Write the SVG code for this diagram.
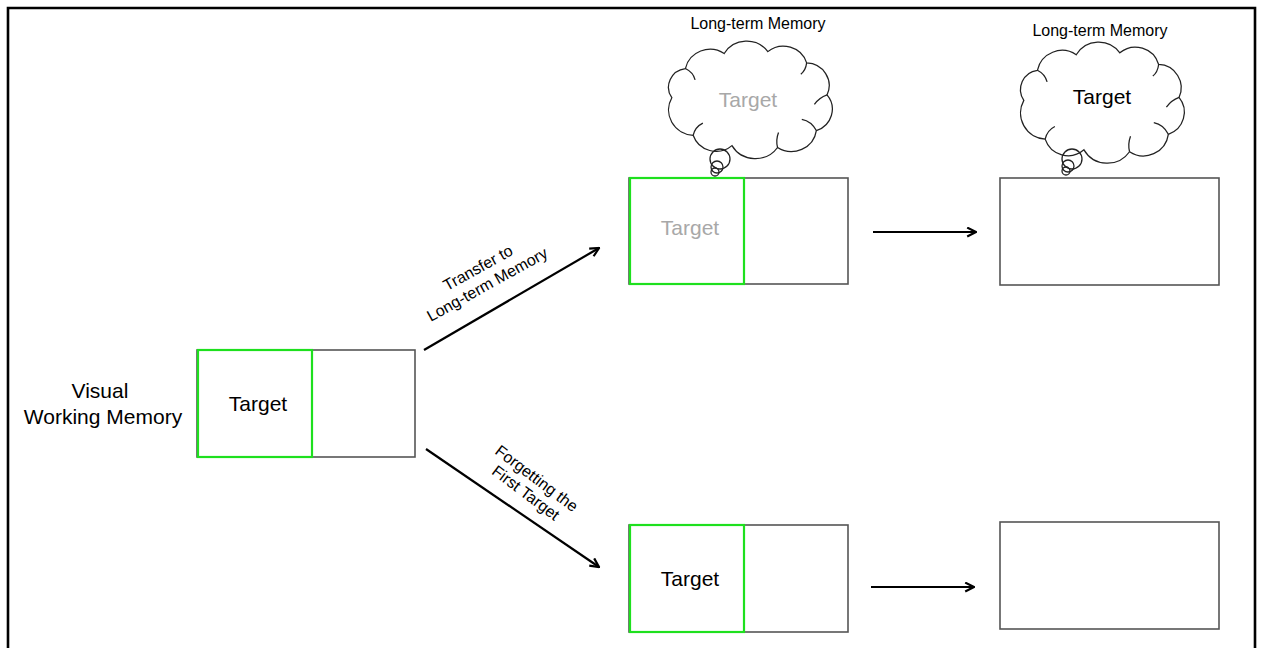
<svg xmlns="http://www.w3.org/2000/svg" width="1261" height="648" viewBox="0 0 1261 648">
  <style>
    text { font-family: "Liberation Sans", Arial, sans-serif; fill: #000; }
    .lbl { font-size: 21px; text-anchor: middle; }
    .small { font-size: 16px; text-anchor: middle; }
    .faded { fill: #a8a8a8; }
    .slot { fill: #fff; stroke: #555; stroke-width: 1.6; }
    .held { fill: none; stroke: #1ee01e; stroke-width: 2.2; }
    .cloud { fill: #fff; stroke: #222; stroke-width: 1.3; }
    .bubble { fill: none; stroke: #222; stroke-width: 1.3; }
    .crease { fill: none; stroke: #222; stroke-width: 1.3; }
    .conn { stroke: #000; stroke-width: 2.2; fill: none; marker-end: url(#head); }
  </style>
  <defs>
    <marker id="head" viewBox="0 0 10 10" refX="9" refY="5" markerWidth="5" markerHeight="5" orient="auto" markerUnits="strokeWidth">
      <path d="M1,1 L9,5 L1,9" fill="none" stroke="#000" stroke-width="2"/>
    </marker>
    <path id="cloudShape" d="M6,55 A20,20 0 0 1 20,24 A26,26 0 0 1 60,8 A27,27 0 0 1 105,6 A25,25 0 0 1 145,18 A24,24 0 0 1 166,52 A24,24 0 0 1 155,90 A26,26 0 0 1 115,108 A28,28 0 0 1 68,106 A25,25 0 0 1 28,95 A27,27 0 0 1 6,55 Z"/>
    <g id="cloudCreases">
      <path d="M28,95 Q30,86 38,82"/>
      <path d="M155,90 Q150,80 140,78"/>
      <path d="M115,108 Q113,100 116,92"/>
      <path d="M20,24 Q28,28 30,36"/>
      <path d="M145,18 Q144,26 139,30"/>
      <path d="M166,52 Q158,55 153,62"/>
    </g>
  </defs>

  <!-- outer frame -->
  <path d="M8,648 V8 H1255 V648" fill="none" stroke="#000" stroke-width="2.6"/>

  <!-- connectors -->
  <g id="connectors">
    <line class="conn" x1="424" y1="350" x2="599" y2="248"/>
    <line class="conn" x1="426" y1="449" x2="599" y2="567"/>
    <line class="conn" x1="873" y1="232" x2="976" y2="232"/>
    <line class="conn" x1="871" y1="587" x2="974" y2="587"/>
    <g transform="translate(483,277) rotate(-29)">
      <text class="small" x="0" y="-5">Transfer to</text>
      <text class="small" x="0" y="14">Long-term Memory</text>
    </g>
    <g transform="translate(531,486) rotate(37)">
      <text class="small" x="0" y="-4">Forgetting the</text>
      <text class="small" x="0" y="14">First Target</text>
    </g>
  </g>

  <!-- visual working memory label -->
  <g id="vwm-label">
    <text class="lbl" x="100" y="398">Visual</text>
    <text class="lbl" x="103" y="424">Working Memory</text>
  </g>

  <!-- initial memory store -->
  <g id="start">
    <rect class="slot" x="197" y="350" width="218" height="107"/>
    <rect class="held" x="198" y="350" width="114" height="107"/>
    <text class="lbl" x="258" y="411">Target</text>
  </g>

  <!-- transferred: store with cloud -->
  <g id="transfer-store">
    <rect class="slot" x="629" y="178" width="219" height="106"/>
    <rect class="held" x="630" y="178" width="114" height="106"/>
    <text class="lbl faded" x="690" y="235">Target</text>
  </g>
  <g id="transfer-ltm">
    <text class="small" x="758" y="29">Long-term Memory</text>
    <g transform="translate(666,46) scale(0.97,0.94)">
      <use href="#cloudShape" class="cloud"/>
      <use href="#cloudCreases" class="crease"/>
    </g>
    <circle class="bubble" cx="720" cy="159" r="10"/>
    <circle class="bubble" cx="717" cy="167" r="6"/>
    <circle class="bubble" cx="715" cy="172" r="4"/>
    <text class="lbl faded" x="748" y="107">Target</text>
  </g>

  <!-- transferred: later state -->
  <g id="transfer-end">
    <rect class="slot" x="1000" y="178" width="219" height="107"/>
  </g>
  <g id="end-ltm">
    <text class="small" x="1100" y="36">Long-term Memory</text>
    <g transform="translate(1018,47) scale(0.97,0.97)">
      <use href="#cloudShape" class="cloud"/>
      <use href="#cloudCreases" class="crease"/>
    </g>
    <circle class="bubble" cx="1072" cy="159" r="10"/>
    <circle class="bubble" cx="1068" cy="166" r="6"/>
    <circle class="bubble" cx="1066" cy="171" r="4"/>
    <text class="lbl" x="1102" y="104">Target</text>
  </g>

  <!-- forgetting branch -->
  <g id="forget-store">
    <rect class="slot" x="629" y="525" width="219" height="107"/>
    <rect class="held" x="630" y="525" width="114" height="107"/>
    <text class="lbl" x="690" y="586">Target</text>
  </g>
  <g id="forget-end">
    <rect class="slot" x="1000" y="522" width="219" height="107"/>
  </g>
</svg>
